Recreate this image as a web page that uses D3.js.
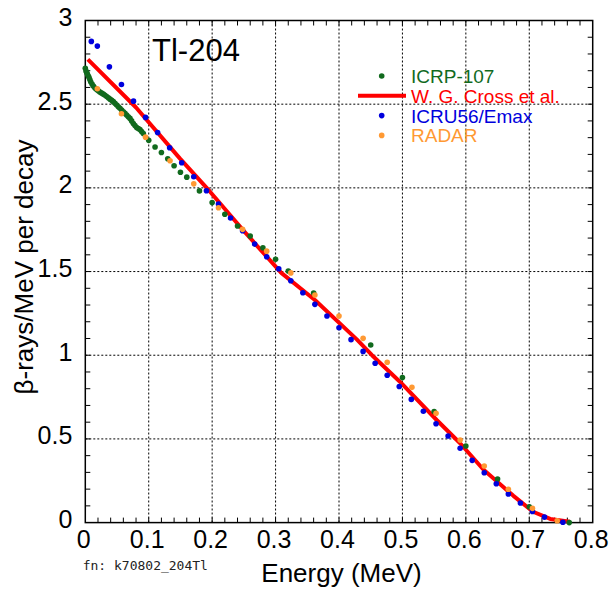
<!DOCTYPE html>
<html>
<head>
<meta charset="utf-8">
<script src="https://cdn.jsdelivr.net/npm/d3@7"></script>
<style>
  body { margin: 0; background: #fff; }
  svg { display: block; font-family: "Liberation Sans", Arial, sans-serif; }
</style>
</head>
<body>
<svg id="chart"></svg>
<script>
// ICRP-107 spectrum (dense near 0)
var icrpE = [0, 0.0011, 0.0022, 0.0032, 0.0045, 0.0058, 0.0071, 0.0085, 0.0106, 0.0127, 0.0153, 0.0179,
  0.0205, 0.0232, 0.0258, 0.0284, 0.031, 0.0337, 0.0363, 0.039, 0.0416, 0.0442, 0.0468, 0.0495, 0.0521,
  0.0547, 0.0573, 0.060, 0.0626, 0.0652, 0.0678, 0.0705, 0.0731, 0.0757, 0.0783, 0.081, 0.0836, 0.0862,
  0.0888, 0.0915,
  0.10, 0.11, 0.12, 0.13, 0.14, 0.15, 0.16, 0.18, 0.20, 0.22, 0.24, 0.26, 0.28, 0.30, 0.32,
  0.36, 0.45, 0.50, 0.55, 0.60, 0.65, 0.70, 0.763];
var icrpY = [2.714, 2.698, 2.689, 2.680, 2.670, 2.660, 2.647, 2.634, 2.621, 2.608, 2.597, 2.588,
  2.580, 2.572, 2.566, 2.560, 2.553, 2.546, 2.538, 2.530, 2.523, 2.515, 2.505, 2.495, 2.485,
  2.475, 2.465, 2.455, 2.445, 2.435, 2.425, 2.415, 2.400, 2.385, 2.373, 2.361, 2.355, 2.349,
  2.337, 2.325,
  2.284, 2.244, 2.211, 2.174, 2.132, 2.093, 2.064, 1.982, 1.912, 1.842, 1.772, 1.712, 1.642, 1.573, 1.503,
  1.372, 1.061, 0.867, 0.664, 0.458, 0.260, 0.095, 0.0];

// W. G. Cross et al. (line)
var crossE = [0.004, 0.080, 0.149, 0.196, 0.250, 0.309, 0.362, 0.428, 0.452, 0.496, 0.554, 0.591, 0.628, 0.675, 0.706, 0.733, 0.764];
var crossY = [2.768, 2.480, 2.176, 1.980, 1.742, 1.492, 1.330, 1.095, 1.000, 0.842, 0.613, 0.474, 0.316, 0.160, 0.065, 0.022, 0.005];

// ICRU56/Emax
var icruE = [0.0095, 0.019, 0.038, 0.057, 0.076, 0.095, 0.114, 0.133, 0.152, 0.171, 0.191, 0.210, 0.229, 0.248,
  0.267, 0.286, 0.305, 0.324, 0.343, 0.362, 0.381, 0.400, 0.419, 0.438, 0.457, 0.476, 0.495, 0.514,
  0.533, 0.553, 0.572, 0.591, 0.610, 0.629, 0.648, 0.667, 0.686, 0.705, 0.724, 0.753];
var icruY = [2.875, 2.847, 2.723, 2.618, 2.518, 2.421, 2.331, 2.240, 2.150, 2.066, 1.983, 1.903, 1.820, 1.744,
  1.664, 1.588, 1.517, 1.445, 1.373, 1.304, 1.234, 1.164, 1.093, 1.023, 0.952, 0.880, 0.813, 0.736,
  0.665, 0.591, 0.517, 0.444, 0.372, 0.298, 0.232, 0.171, 0.117, 0.067, 0.033, 0.002];

// RADAR
var radarE = [0.019, 0.057, 0.095, 0.1336, 0.171, 0.210, 0.248, 0.286, 0.324, 0.362, 0.400, 0.438, 0.476,
  0.515, 0.553, 0.591, 0.629, 0.667, 0.705, 0.744];
var radarY = [2.592, 2.443, 2.303, 2.162, 2.024, 1.881, 1.752, 1.622, 1.492, 1.360, 1.234, 1.101, 0.958,
  0.808, 0.653, 0.493, 0.338, 0.199, 0.085, 0.011];

var xTicks = [0, 0.1, 0.2, 0.3, 0.4, 0.5, 0.6, 0.7, 0.8];
var yTicks = [0, 0.5, 1, 1.5, 2, 2.5, 3];
var legendNames = ["ICRP-107", "W. G. Cross et al.", "ICRU56/Emax", "RADAR"];

var W = 612, H = 599;
var m = { left: 85.3, right: 19.3, top: 20.5, bottom: 76.4 };
var w = W - m.left - m.right;
var h = H - m.top - m.bottom;

var cGreen = "#116a1e", cRed = "#ff0000", cBlue = "#0000dd", cOrange = "#ff9933";

var svg = d3.select("#chart").attr("width", W).attr("height", H);
var chart = svg.append("g").attr("transform", "translate(" + m.left + "," + m.top + ")");

var x = d3.scaleLinear().domain([0, 0.8]).range([0, w]);
var y = d3.scaleLinear().domain([0, 3]).range([h, 0]);

function zip(a, b) { return a.map(function (v, i) { return [v, b[i]]; }); }

// Grid (dotted)
chart.append("g").selectAll("line")
  .data(xTicks.slice(1, -1)).enter().append("line")
  .attr("x1", function (d) { return x(d); }).attr("x2", function (d) { return x(d); })
  .attr("y1", 0).attr("y2", h)
  .attr("stroke", "#000").attr("stroke-width", 1).attr("stroke-dasharray", "2,2");
chart.append("g").selectAll("line")
  .data(yTicks.slice(1, -1)).enter().append("line")
  .attr("y1", function (d) { return y(d); }).attr("y2", function (d) { return y(d); })
  .attr("x1", 0).attr("x2", w)
  .attr("stroke", "#000").attr("stroke-width", 1).attr("stroke-dasharray", "2,2");

// Minor ticks on all four sides, inward
var xMinor = d3.range(1, 40).map(function (i) { return i * 0.02; });
var yMinor = d3.range(1, 30).map(function (i) { return i * 0.1; });
var tl = 5;
var gT = chart.append("g").attr("stroke", "#000").attr("stroke-width", 1);
xMinor.forEach(function (d) {
  gT.append("line").attr("x1", x(d)).attr("x2", x(d)).attr("y1", h).attr("y2", h - tl);
  gT.append("line").attr("x1", x(d)).attr("x2", x(d)).attr("y1", 0).attr("y2", tl);
});
yMinor.forEach(function (d) {
  gT.append("line").attr("y1", y(d)).attr("y2", y(d)).attr("x1", 0).attr("x2", tl);
  gT.append("line").attr("y1", y(d)).attr("y2", y(d)).attr("x1", w).attr("x2", w - tl);
});

// Frame
chart.append("rect").attr("x", 0).attr("y", 0).attr("width", w).attr("height", h)
  .attr("fill", "none").attr("stroke", "#000").attr("stroke-width", 1.5);

// Tick labels
chart.append("g").selectAll("text").data(xTicks).enter().append("text")
  .attr("x", function (d) { return x(d) - 1.5; })
  .attr("y", h + 25.7)
  .attr("text-anchor", "middle")
  .attr("font-size", 25)
  .text(function (d) { return d3.format("")(d); });
chart.append("g").selectAll("text").data(yTicks).enter().append("text")
  .attr("x", -13)
  .attr("y", function (d) { return y(d) + 5.5; })
  .attr("text-anchor", "end")
  .attr("font-size", 25)
  .text(function (d) { return d3.format("")(d); });

// Series
var line = d3.line().x(function (d) { return x(d[0]); }).y(function (d) { return y(d[1]); });
chart.append("path")
  .attr("d", line(zip(crossE, crossY)))
  .attr("fill", "none").attr("stroke", cRed).attr("stroke-width", 4)
  .attr("stroke-linejoin", "round");

function dots(E, Y, col) {
  chart.append("g").selectAll("circle").data(zip(E, Y)).enter().append("circle")
    .attr("cx", function (d) { return x(d[0]); })
    .attr("cy", function (d) { return y(d[1]); })
    .attr("r", 2.8)
    .attr("fill", col);
}
dots(icrpE, icrpY, cGreen);
dots(icruE, icruY, cBlue);
dots(radarE, radarY, cOrange);

// Title
svg.append("text").attr("x", 152).attr("y", 61).attr("font-size", 31).attr("fill", "#000").text("Tl-204");

// Legend
var legCols = [cGreen, cRed, cBlue, cOrange];
var leg = svg.append("g");
legendNames.forEach(function (name, i) {
  var ly = 76 + i * 19.8;
  if (i === 1) {
    leg.append("line").attr("x1", 358).attr("x2", 406).attr("y1", ly).attr("y2", ly)
      .attr("stroke", cRed).attr("stroke-width", 4);
  } else {
    leg.append("circle").attr("cx", 381.7).attr("cy", ly).attr("r", 2.8).attr("fill", legCols[i]);
  }
  leg.append("text").attr("x", 411).attr("y", ly + 7).attr("font-size", 19)
    .attr("fill", legCols[i]).text(name);
});

// Axis titles
svg.append("text").attr("x", m.left + w / 2 + 2.5).attr("y", 582).attr("text-anchor", "middle")
  .attr("font-size", 26).text("Energy (MeV)");
svg.append("text").attr("transform", "translate(33,267) rotate(-90)").attr("text-anchor", "middle")
  .attr("font-size", 26).text("\u03b2-rays/MeV per decay");

svg.append("text").attr("x", 82.7).attr("y", 570).attr("font-size", 13)
  .attr("font-family", "DejaVu Sans Mono, monospace").attr("fill", "#222").text("fn: k70802_204Tl");
</script>
</body>
</html>
